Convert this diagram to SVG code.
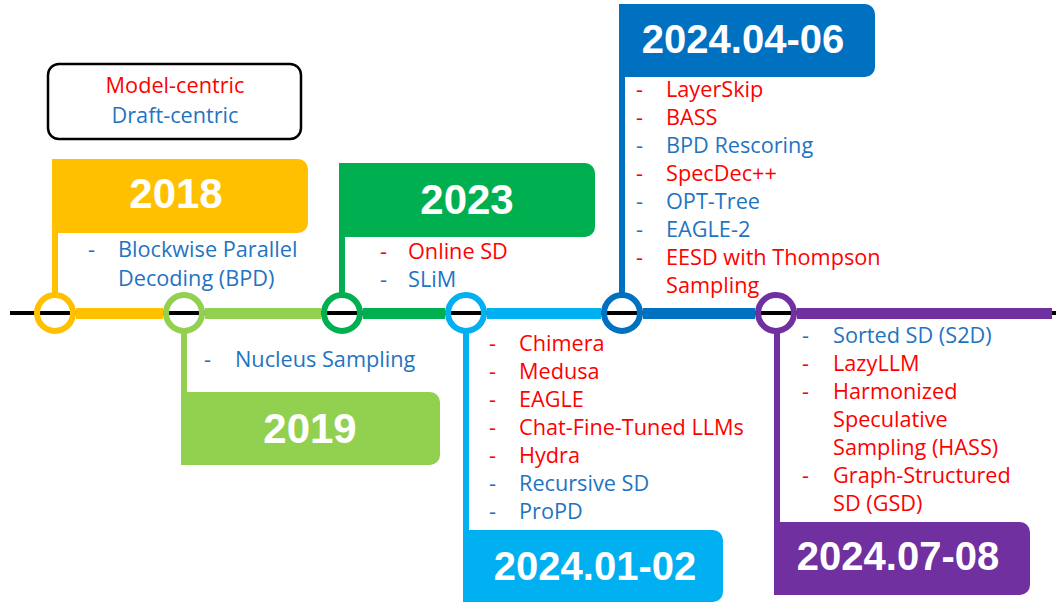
<svg xmlns="http://www.w3.org/2000/svg" width="1056" height="603" viewBox="0 0 1056 603">
<style>
.yr{font-family:"Liberation Sans",Arial,sans-serif;font-weight:bold;fill:#fff;text-anchor:middle}
.it{font-family:"Open Sans","Liberation Sans",sans-serif;font-size:21.7px}
.r{fill:#ff0000}
.b{fill:#1f74c2}
.ring{fill:none;stroke-width:6}
</style>
<rect width="1056" height="603" fill="#fff"/>
<g id="legend">
<rect x="48" y="64" width="253" height="75" rx="11" fill="#fff" stroke="#000" stroke-width="2.5"/>
<text class="it r" x="175" y="93" text-anchor="middle">Model-centric</text>
<text class="it b" x="175" y="123" text-anchor="middle">Draft-centric</text>
</g>
<g id="connectors">
<line x1="10" y1="313" x2="1056" y2="313" stroke="#000" stroke-width="4"/>
<rect x="76" y="308" width="87" height="11" fill="#ffc000"/>
<rect x="205" y="308" width="116" height="11" fill="#92d050"/>
<rect x="363" y="308" width="82" height="11" fill="#00b050"/>
<rect x="487" y="308" width="114" height="11" fill="#00b0f0"/>
<rect x="643" y="308" width="112" height="11" fill="#0070c0"/>
<rect x="797" y="308" width="255" height="11" fill="#7030a0"/>
</g>
<g id="n2018">
<line x1="55" y1="160" x2="55" y2="294" stroke="#ffc000" stroke-width="6"/>
<path d="M52,159 H298 A10,10 0 0 1 308,169 V223 A10,10 0 0 1 298,233 H52 Z" fill="#ffc000"/>
<circle class="ring" cx="55" cy="313" r="18" stroke="#ffc000"/>
<text class="yr" x="176" y="208" font-size="42">2018</text>
<text class="it b" x="88" y="257">-</text>
<text class="it b" x="118" y="257">Blockwise Parallel</text>
<text class="it b" x="118" y="286">Decoding (BPD)</text>
</g>
<g id="n2019">
<line x1="184" y1="332" x2="184" y2="393" stroke="#92d050" stroke-width="6"/>
<path d="M181,392 H430 A10,10 0 0 1 440,402 V455 A10,10 0 0 1 430,465 H181 Z" fill="#92d050"/>
<circle class="ring" cx="184" cy="313" r="18" stroke="#92d050"/>
<text class="yr" x="310" y="443" font-size="42">2019</text>
<text class="it b" x="204" y="367">-</text>
<text class="it b" x="235" y="367">Nucleus Sampling</text>
</g>
<g id="n2023">
<line x1="342" y1="164" x2="342" y2="294" stroke="#00b050" stroke-width="6"/>
<path d="M339,163 H585 A10,10 0 0 1 595,173 V227 A10,10 0 0 1 585,237 H339 Z" fill="#00b050"/>
<circle class="ring" cx="342" cy="313" r="18" stroke="#00b050"/>
<text class="yr" x="467" y="214" font-size="42">2023</text>
<text class="it r" x="380" y="259">-</text>
<text class="it r" x="408" y="259">Online SD</text>
<text class="it b" x="380" y="287">-</text>
<text class="it b" x="408" y="287">SLiM</text>
</g>
<g id="n202401">
<line x1="466" y1="332" x2="466" y2="531" stroke="#00b0f0" stroke-width="6"/>
<path d="M463,530 H713 A10,10 0 0 1 723,540 V592 A10,10 0 0 1 713,602 H463 Z" fill="#00b0f0"/>
<circle class="ring" cx="466" cy="313" r="18" stroke="#00b0f0"/>
<text class="yr" x="595" y="580" font-size="40">2024.01-02</text>
<g class="it r">
<text x="489" y="351">-</text><text x="519" y="351">Chimera</text>
<text x="489" y="379">-</text><text x="519" y="379">Medusa</text>
<text x="489" y="407">-</text><text x="519" y="407">EAGLE</text>
<text x="489" y="435">-</text><text x="519" y="435">Chat-Fine-Tuned LLMs</text>
<text x="489" y="463">-</text><text x="519" y="463">Hydra</text>
</g>
<g class="it b">
<text x="489" y="491">-</text><text x="519" y="491">Recursive SD</text>
<text x="489" y="519">-</text><text x="519" y="519">ProPD</text>
</g>
</g>
<g id="n202404">
<line x1="622" y1="6" x2="622" y2="294" stroke="#0070c0" stroke-width="6"/>
<path d="M619,4 H865 A10,10 0 0 1 875,14 V67 A10,10 0 0 1 865,77 H619 Z" fill="#0070c0"/>
<circle class="ring" cx="622" cy="313" r="18" stroke="#0070c0"/>
<text class="yr" x="743" y="53" font-size="40">2024.04-06</text>
<text class="it r" x="636" y="97">-</text><text class="it r" x="666" y="97">LayerSkip</text>
<text class="it r" x="636" y="125">-</text><text class="it r" x="666" y="125">BASS</text>
<text class="it b" x="636" y="153">-</text><text class="it b" x="666" y="153">BPD Rescoring</text>
<text class="it r" x="636" y="181">-</text><text class="it r" x="666" y="181">SpecDec++</text>
<text class="it b" x="636" y="209">-</text><text class="it b" x="666" y="209">OPT-Tree</text>
<text class="it b" x="636" y="237">-</text><text class="it b" x="666" y="237">EAGLE-2</text>
<text class="it r" x="636" y="265">-</text><text class="it r" x="666" y="265">EESD with Thompson</text>
<text class="it r" x="666" y="293">Sampling</text>
</g>
<g id="n202407">
<line x1="777" y1="332" x2="777" y2="523" stroke="#7030a0" stroke-width="6"/>
<path d="M774,522 H1020 A10,10 0 0 1 1030,532 V585 A10,10 0 0 1 1020,595 H774 Z" fill="#7030a0"/>
<circle class="ring" cx="776" cy="313" r="18" stroke="#7030a0"/>
<text class="yr" x="898" y="570" font-size="40">2024.07-08</text>
<text class="it b" x="802" y="343">-</text><text class="it b" x="833" y="343">Sorted SD (S2D)</text>
<text class="it r" x="802" y="371">-</text><text class="it r" x="833" y="371">LazyLLM</text>
<text class="it r" x="802" y="399">-</text><text class="it r" x="833" y="399">Harmonized</text>
<text class="it r" x="833" y="427">Speculative</text>
<text class="it r" x="833" y="455">Sampling (HASS)</text>
<text class="it r" x="802" y="483">-</text><text class="it r" x="833" y="483">Graph-Structured</text>
<text class="it r" x="833" y="511">SD (GSD)</text>
</g>
</svg>
